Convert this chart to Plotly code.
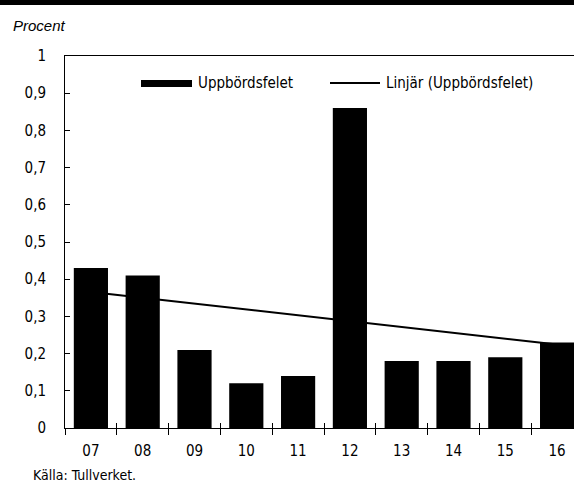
import numpy as np
import plotly.graph_objects as go

years = ["07", "08", "09", "10", "11", "12", "13", "14", "15", "16"]
uppbordsfelet = [0.43, 0.41, 0.21, 0.12, 0.14, 0.86, 0.18, 0.18, 0.19, 0.23]
y_ticks = [0, 0.1, 0.2, 0.3, 0.4, 0.5, 0.6, 0.7, 0.8, 0.9, 1]

FONT = "DejaVu Sans Condensed, Liberation Sans Narrow, sans-serif"

idx = np.arange(len(years))
coef = np.polyfit(idx, uppbordsfelet, 1)
trend = np.polyval(coef, idx)

W, H = 574, 485
L, T, B = 65, 56, 57
pw = W - L
ph = H - T - B


def px_x(p):
    return (p - L) / pw


def px_y(p):
    return (H - B - p) / ph


fig = go.Figure()
fig.add_trace(go.Bar(x=years, y=uppbordsfelet, marker=dict(color="black", line=dict(width=0)),
                     name="Uppbördsfelet", showlegend=False))
fig.add_trace(go.Scatter(x=years, y=trend, mode="lines", line=dict(color="black", width=2),
                         name="Linjär (Uppbördsfelet)", showlegend=False))
fig.add_trace(go.Scatter(x=years, y=[None] * len(years), xaxis="x2", yaxis="y",
                         showlegend=False, hoverinfo="skip"))

xr = [-0.5, len(years) - 0.5 - (583 - W) / 51.8]

fig.update_layout(
    width=W, height=H,
    margin=dict(l=L, r=0, t=T, b=B),
    paper_bgcolor="white", plot_bgcolor="white",
    separators=", ",
    bargap=0.34,
    font=dict(family=FONT, size=15, color="black"),
    xaxis=dict(type="category", range=xr, tickson="boundaries", ticks="outside", ticklen=6,
               tickcolor="black", tickwidth=1, showline=True, linecolor="black", linewidth=1,
               mirror=True, showgrid=False, zeroline=False, ticklabelstandoff=9,
               tickfont=dict(family=FONT, size=15)),
    xaxis2=dict(type="category", range=xr, overlaying="x", anchor="y", side="bottom",
                tickson="boundaries", ticks="inside", ticklen=5, tickcolor="black",
                showticklabels=False, showline=False, showgrid=False, zeroline=False),
    yaxis=dict(range=[0, 1], tickvals=y_ticks, ticks="inside", ticklen=5, tickcolor="black",
               showline=True, linecolor="black", linewidth=1, showgrid=False, zeroline=False,
               ticklabelstandoff=15, tickfont=dict(family=FONT, size=15)),
    shapes=[
        dict(type="rect", xref="paper", yref="paper", x0=-L / pw, x1=1.0,
             y0=px_y(5), y1=px_y(0), fillcolor="black", line=dict(width=0)),
        dict(type="rect", xref="paper", yref="paper", x0=px_x(141), x1=px_x(192),
             y0=px_y(87), y1=px_y(80), fillcolor="black", line=dict(width=0)),
        dict(type="line", xref="paper", yref="paper", x0=px_x(330), x1=px_x(380),
             y0=px_y(83), y1=px_y(83), line=dict(color="black", width=2)),
    ],
    annotations=[
        dict(text="Uppbördsfelet", xref="paper", yref="paper", x=px_x(196), y=px_y(83),
             xanchor="left", yanchor="middle", showarrow=False, font=dict(size=15)),
        dict(text="Linjär (Uppbördsfelet)", xref="paper", yref="paper", x=px_x(384), y=px_y(83),
             xanchor="left", yanchor="middle", showarrow=False, font=dict(size=15)),
        dict(text="<i>Procent</i>", xref="paper", yref="paper", x=px_x(11), y=px_y(25),
             xanchor="left", yanchor="middle", showarrow=False,
             font=dict(family="Liberation Sans, Arial, sans-serif", size=15)),
        dict(text="Källa: Tullverket.", xref="paper", yref="paper", x=px_x(31), y=px_y(475),
             xanchor="left", yanchor="middle", showarrow=False, font=dict(size=14)),
    ],
)

fig.write_html("out.html", config={"displayModeBar": False},
               post_script="document.body.style.margin='0';document.body.style.overflow='hidden';")
